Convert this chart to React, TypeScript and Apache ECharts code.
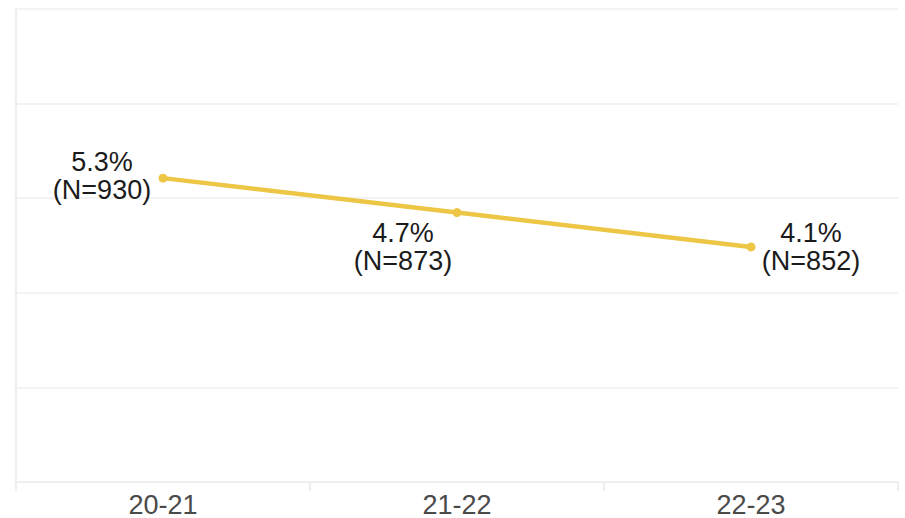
import React, { useEffect, useRef } from "react";
import * as echarts from "echarts";

// School years on the category axis
const years = ["20-21", "21-22", "22-23"];
// Rate in percent for each year
const rates = [5.3, 4.7, 4.1];
// Number of respondents behind each rate
const counts = [930, 873, 852];

const TEXT = "#1b1b1b";
const LINE = "#ECC644";
const GRID = "#efefef";
const FONT = "Liberation Sans, Arial, sans-serif";

// Where each two-line label sits relative to its point
const labelOffsets: [number, number][] = [
  [-61, -2],
  [-54, 34],
  [60, 0],
];

export default function App() {
  const ref = useRef<HTMLDivElement>(null);

  useEffect(() => {
    if (!ref.current) return;
    const chart = echarts.init(ref.current, undefined, { renderer: "svg" });

    chart.setOption({
      animation: false,
      backgroundColor: "#ffffff",
      grid: { left: 16, right: 7, top: 9, bottom: 32, containLabel: false },
      xAxis: {
        type: "category",
        data: years,
        boundaryGap: true,
        axisLine: { show: true, lineStyle: { color: GRID, width: 2 } },
        axisTick: { show: true, length: 9, lineStyle: { color: GRID, width: 2 } },
        axisLabel: {
          color: "#4a4a4a",
          fontFamily: FONT,
          fontSize: 27,
          margin: 9,
        },
        splitLine: { show: false },
      },
      yAxis: {
        type: "value",
        min: 0,
        max: 8.25,
        interval: 1.65,
        axisLine: { show: true, lineStyle: { color: GRID, width: 2 } },
        axisTick: { show: true, length: 2, lineStyle: { color: GRID } },
        axisLabel: { show: false },
        splitLine: { show: true, lineStyle: { color: GRID, width: 1.5 } },
      },
      series: [
        {
          type: "line",
          data: rates.map((v, i) => ({
            value: v,
            label: {
              show: true,
              position: "inside",
              offset: labelOffsets[i],
              align: "center",
              verticalAlign: "middle",
              color: TEXT,
              fontFamily: FONT,
              fontSize: 27,
              lineHeight: 28,
              formatter: () => `${rates[i].toFixed(1)}%\n(N=${counts[i]})`,
            },
          })),
          symbol: "circle",
          symbolSize: 9,
          lineStyle: { color: LINE, width: 4.5 },
          itemStyle: { color: LINE },
        },
      ],
    });

    return () => chart.dispose();
  }, []);

  return (
    <div
      ref={ref}
      style={{ position: "absolute", left: 0, top: 0, width: 905, height: 518 }}
    />
  );
}
